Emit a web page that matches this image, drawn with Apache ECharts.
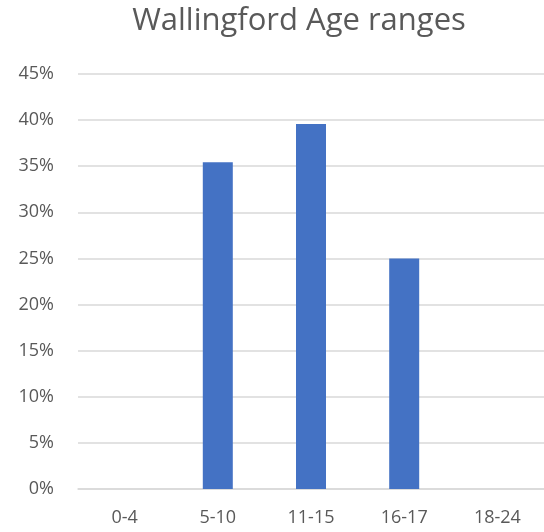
<!DOCTYPE html>
<html>
<head>
<meta charset="utf-8">
<script src="https://cdn.jsdelivr.net/npm/echarts@6/dist/echarts.min.js"></script>
<style>
  html, body { margin: 0; padding: 0; background: #fff; }
  #chart { width: 544px; height: 532px; }
</style>
</head>
<body>
<div id="chart"></div>
<script>
var categories = ["0-4", "5-10", "11-15", "16-17", "18-24"];
var shares = [0, 0.3543, 0.3957, 0.25, 0];

var chart = echarts.init(document.getElementById('chart'));
chart.setOption({
  animation: false,
  title: {
    text: "Wallingford Age ranges",
    left: 294,
    top: 1,
    textAlign: "center",
    textStyle: {
      color: "#595959",
      fontSize: 31,
      fontWeight: "normal",
      fontFamily: "Open Sans"
    }
  },
  grid: {
    left: 78,
    right: 0,
    top: 74,
    bottom: 43
  },
  xAxis: {
    type: "category",
    data: categories,
    axisLine: {
      lineStyle: { color: "#d9d9d9", width: 1.5 }
    },
    axisTick: { show: false },
    axisLabel: {
      color: "#595959",
      fontSize: 18,
      fontFamily: "Open Sans",
      margin: 20
    }
  },
  yAxis: {
    type: "value",
    min: 0,
    max: 0.45,
    interval: 0.05,
    axisLine: { show: false },
    axisTick: { show: false },
    splitLine: {
      lineStyle: { color: "#d9d9d9", width: 1.5 }
    },
    axisLabel: {
      color: "#595959",
      fontSize: 18,
      fontFamily: "Open Sans",
      margin: 24,
      formatter: function (v) {
        return Math.round(v * 100) + "%";
      }
    }
  },
  series: [{
    type: "bar",
    data: shares,
    barWidth: 30,
    itemStyle: { color: "#4472c4" }
  }]
});
</script>
</body>
</html>
